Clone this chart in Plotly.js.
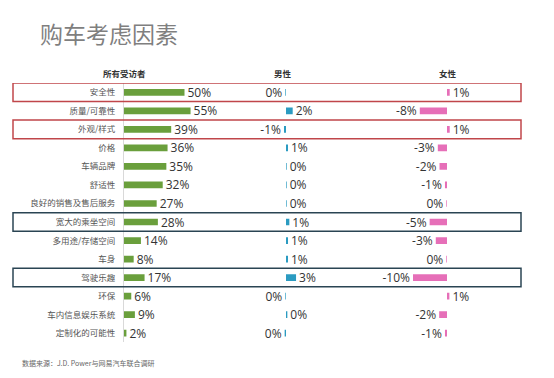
<!DOCTYPE html>
<html><head><meta charset="utf-8">
<script src="https://cdn.plot.ly/plotly-3.0.1.min.js"></script>
<style>html,body{margin:0;padding:0;background:#fff}#c{width:554px;height:378px}</style>
</head><body><div id="c"></div>
<script>
const categories = ["安全性","质量/可靠性","外观/样式","价格","车辆品牌","舒适性","良好的销售及售后服务","宽大的乘坐空间","多用途/存储空间","车身","驾驶乐趣","环保","车内信息娱乐系统","定制化的可能性"];
const allValues    = [50,55,39,36,35,32,27,28,14,8,17,6,9,2];
const maleValues   = [-0.2,2,-0.6,0.6,0.2,0.2,0.2,1.0,0.6,0.6,3,-0.2,0.4,-0.4];
const femaleValues = [0.8,-8,0.8,-2.7,-2.2,-0.6,-0.2,-5.1,-3.3,-0.2,-10,0.7,-2.3,-0.6];
const redRows  = [0,2];
const blueRows = [7,10];

const W = 554, H = 378;
const pct = v => Math.round(v) + "%";
const lbl = v => { const r = Math.round(v); return (r === 0 ? 0 : r) + "%"; };

function axis(zeroPx, pxPer, lo, hi) {
  return {domain:[lo/W, hi/W], range:[(lo-zeroPx)/pxPer, (hi-zeroPx)/pxPer],
    showgrid:false, zeroline:false, showticklabels:false, showline:false, fixedrange:true, anchor:'y'};
}
const textFont = {family:"Open Sans, sans-serif", size:12, color:"#333"};
function bar(vals, xa, color) {
  return {type:'bar', orientation:'h', y:categories, x:vals, xaxis:xa, yaxis:'y',
    marker:{color:color}, width:0.36, text:vals.map(lbl), textposition:'outside',
    textfont:textFont, constraintext:'none', cliponaxis:false, hoverinfo:'skip', showlegend:false};
}
const traces = [
  bar(allValues, 'x', '#6a9f3c'),
  bar(maleValues, 'x2', '#2b9bc1'),
  bar(femaleValues, 'x3', '#e66fb8')
];
const rowPx0 = 92.3, rowStep = 18.53;
const yTop = rowPx0 - rowStep/2, yBot = rowPx0 + rowStep*13.5;
const shapes = [];
redRows.forEach(i => shapes.push({type:'rect', xref:'paper', yref:'y', x0:13/W, x1:521/W, y0:i-0.5, y1:i+0.5, line:{color:'#c0464a', width:1.5}}));
blueRows.forEach(i => shapes.push({type:'rect', xref:'paper', yref:'y', x0:13/W, x1:521/W, y0:i-0.5, y1:i+0.5, line:{color:'#2a4453', width:1.5}}));

const hdrFont = {family:"Noto Sans CJK SC", size:8.5, color:"#333", weight:700};
const annotations = [
  {text:"购车考虑因素", xref:'paper', yref:'paper', x:38/W, y:1-33/H, xanchor:'left', yanchor:'middle', showarrow:false, font:{family:"Noto Sans CJK SC", size:23, color:"#7f7f7f"}},
  {text:"<b>所有受访者</b>", xref:'paper', yref:'paper', x:125/W, y:1-73/H, xanchor:'center', yanchor:'middle', showarrow:false, font:hdrFont},
  {text:"<b>男性</b>", xref:'paper', yref:'paper', x:283/W, y:1-73/H, xanchor:'center', yanchor:'middle', showarrow:false, font:hdrFont},
  {text:"<b>女性</b>", xref:'paper', yref:'paper', x:448/W, y:1-73/H, xanchor:'center', yanchor:'middle', showarrow:false, font:hdrFont},
  {text:"数据来源：J.D. Power与网易汽车联合调研", xref:'paper', yref:'paper', x:20/W, y:1-363/H, xanchor:'left', yanchor:'middle', showarrow:false, font:{family:"Noto Sans CJK SC", size:7, color:"#666"}}
];

const layout = {
  width:W, height:H, margin:{l:0,r:0,t:0,b:0}, paper_bgcolor:'#fff', plot_bgcolor:'rgba(0,0,0,0)',
  bargap:0.6,
  xaxis: axis(124, 1.21, 124, 250),
  xaxis2: axis(286, 3.35, 252, 340),
  xaxis3: axis(447, 3.4, 360, 520),
  yaxis: {type:'category', categoryarray:categories, range:[13.5,-0.5], domain:[1-yBot/H, 1-yTop/H],
    anchor:'x', showgrid:false, zeroline:false, showline:true, linecolor:'#d9d9d9', linewidth:1,
    ticks:'', ticklabelstandoff:6, tickfont:{family:"Noto Sans CJK SC", size:8.5, color:"#555"}, fixedrange:true},
  shapes:shapes, annotations:annotations
};
Plotly.newPlot('c', traces, layout, {displayModeBar:false, staticPlot:true});
</script></body></html>
